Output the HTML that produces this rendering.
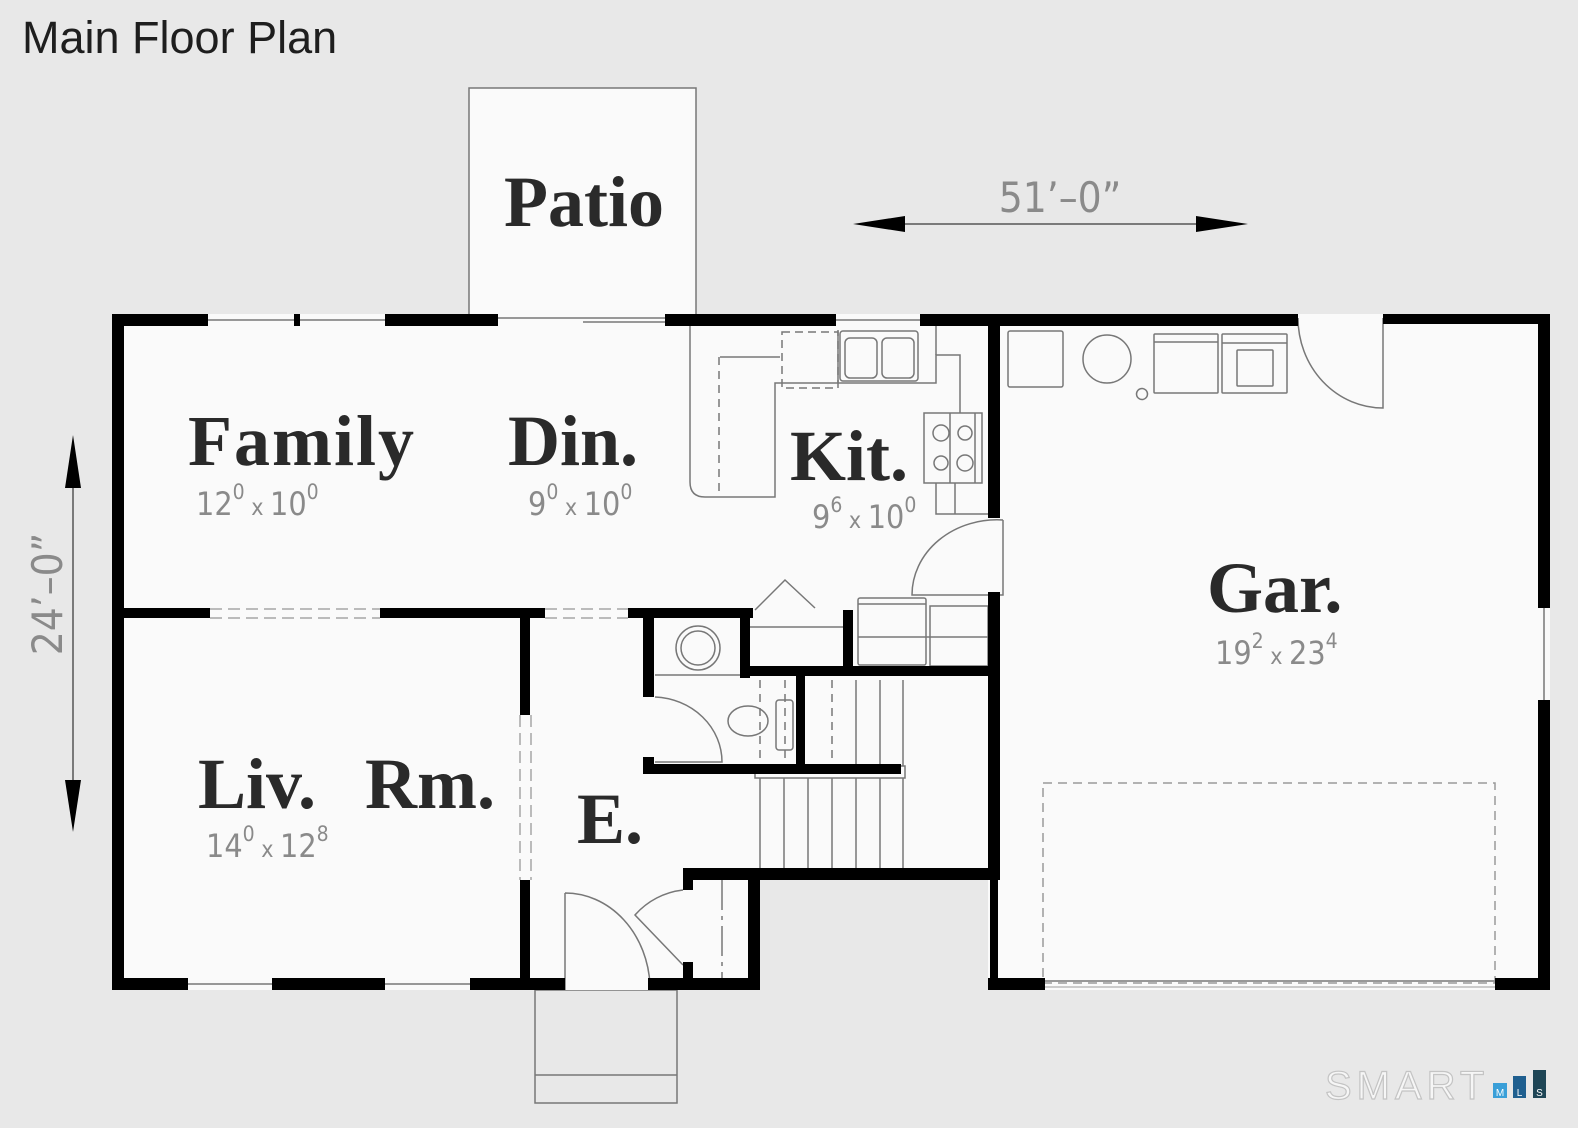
<!DOCTYPE html>
<html><head><meta charset="utf-8"><style>
html,body{margin:0;padding:0;background:#e8e8e8;}
svg{display:block}
.lbl{font-family:"Liberation Serif",serif;font-weight:bold;fill:#2a2a2a;}
.dim{font-family:"DejaVu Sans Condensed","Liberation Sans Narrow","Liberation Sans",sans-serif;fill:#8a8a8a;font-weight:300;}
</style></head><body>
<svg width="1578" height="1128" viewBox="0 0 1578 1128" xmlns="http://www.w3.org/2000/svg">
<rect width="1578" height="1128" fill="#e8e8e8"/>
<text x="22" y="53" font-family="Liberation Sans, sans-serif" font-size="45" fill="#1e1e1e">Main Floor Plan</text>

<rect x="469" y="88" width="227" height="232" fill="#fafafa" stroke="#777" stroke-width="1.5"/>
<rect x="535" y="990" width="142" height="113" fill="#e8e8e8" stroke="#777" stroke-width="1.5"/>
<line x1="535" y1="1075" x2="677" y2="1075" stroke="#777" stroke-width="1.5"/>

<polygon points="112,314 1550,314 1550,990 988,990 988,875 760,875 760,990 112,990" fill="#fafafa"/>

<g fill="none" stroke="#777" stroke-width="1.5">
<line x1="208" y1="320" x2="385" y2="320"/>
<line x1="498" y1="318" x2="665" y2="318"/>
<line x1="583" y1="322" x2="665" y2="322"/>
<line x1="836" y1="320" x2="920" y2="320"/>
<line x1="188" y1="984" x2="272" y2="984"/>
<line x1="385" y1="984" x2="470" y2="984"/>
<line x1="1045" y1="981" x2="1495" y2="981"/>
<line x1="1045" y1="987" x2="1495" y2="987" stroke="#bbb"/>
<line x1="1544" y1="608" x2="1544" y2="700"/>
<path d="M690,326 V482 Q690,497 705,497 H775 V383 H936 V355 H960 V413"/>
<line x1="720" y1="357" x2="780" y2="357"/>
<line x1="719" y1="357" x2="719" y2="497" stroke-dasharray="8,6"/>
<rect x="782" y="332" width="56" height="56" stroke-dasharray="8,5"/>
<line x1="838" y1="330" x2="838" y2="383"/>
<rect x="840" y="331" width="78" height="50" rx="3"/>
<rect x="845" y="338" width="32" height="40" rx="5"/>
<rect x="882" y="338" width="32" height="40" rx="5"/>
<path d="M936,326 V355"/>
<rect x="924" y="413" width="58" height="70"/>
<line x1="950" y1="413" x2="950" y2="483"/>
<line x1="975" y1="413" x2="975" y2="483"/>
<circle cx="941" cy="433" r="8"/><circle cx="965" cy="433" r="7"/>
<circle cx="941" cy="463" r="7"/><circle cx="965" cy="463" r="8"/>
<path d="M936,483 V514 H990"/>
<line x1="955" y1="483" x2="955" y2="514"/>
<path d="M1003,520 A85,75 0 0 0 912,595 H1003 V520"/>
<path d="M755,610 L785,580 L815,608"/>
<line x1="750" y1="627" x2="843" y2="627"/>
<rect x="858" y="598" width="68" height="67" rx="2"/>
<line x1="858" y1="604" x2="926" y2="604"/>
<rect x="930" y="606" width="58" height="60"/>
<line x1="858" y1="637" x2="988" y2="637"/>
<circle cx="698" cy="648" r="22"/><circle cx="698" cy="648" r="17"/>
<line x1="655" y1="675" x2="743" y2="675"/>
<ellipse cx="748" cy="721" rx="20" ry="15"/>
<rect x="776" y="700" width="17" height="50" rx="3"/>
<path d="M655,697 A70,65 0 0 1 722,762 H655"/>
<line x1="760" y1="680" x2="760" y2="766" stroke-dasharray="8,6"/>
<line x1="785" y1="680" x2="785" y2="766" stroke-dasharray="8,6"/>
<line x1="832" y1="680" x2="832" y2="766" stroke-dasharray="8,6"/>
<line x1="856" y1="680" x2="856" y2="766"/>
<line x1="880" y1="680" x2="880" y2="766"/>
<line x1="903" y1="680" x2="903" y2="766"/>
<rect x="755" y="766" width="150" height="12"/>
<line x1="760" y1="778" x2="760" y2="870"/>
<line x1="784" y1="778" x2="784" y2="870"/>
<line x1="808" y1="778" x2="808" y2="870"/>
<line x1="832" y1="778" x2="832" y2="870"/>
<line x1="856" y1="778" x2="856" y2="870"/>
<line x1="880" y1="778" x2="880" y2="870"/>
<line x1="903" y1="778" x2="903" y2="870"/>
<line x1="722" y1="880" x2="722" y2="978" stroke-dasharray="30,6,4,6"/>
<path d="M683,890 A75,75 0 0 0 635,915 L683,965"/>
<path d="M565,893 V990 M565,893 A85,97 0 0 1 650,985"/>
<rect x="1008" y="331" width="55" height="56" rx="2"/>
<circle cx="1107" cy="359" r="24"/>
<circle cx="1142" cy="394" r="5.5"/>
<rect x="1154" y="334" width="64" height="59" rx="1"/>
<line x1="1154" y1="342" x2="1218" y2="342"/>
<rect x="1222" y="334" width="65" height="59" rx="1"/>
<line x1="1222" y1="343" x2="1287" y2="343"/>
<rect x="1237" y="350" width="36" height="36" rx="1"/>
<path d="M1298,318 A85,90 0 0 0 1383,408 V318"/>
<rect x="1043" y="783" width="452" height="200" stroke="#999" stroke-dasharray="9,6"/>
<g stroke="#bbb" stroke-width="2" stroke-dasharray="12,6">
<line x1="210" y1="609" x2="380" y2="609"/><line x1="210" y1="618" x2="380" y2="618"/>
<line x1="545" y1="609" x2="628" y2="609"/><line x1="545" y1="618" x2="628" y2="618"/>
<line x1="520" y1="715" x2="520" y2="880"/><line x1="531" y1="715" x2="531" y2="880"/>
</g>
</g>

<g fill="#000">
<rect x="112" y="314" width="96" height="12"/>
<rect x="294" y="314" width="6" height="12"/>
<rect x="385" y="314" width="113" height="12"/>
<rect x="665" y="314" width="171" height="12"/>
<rect x="920" y="314" width="378" height="12"/>
<rect x="1383" y="314" width="167" height="10"/>
<rect x="112" y="314" width="12" height="676"/>
<rect x="1538" y="314" width="12" height="294"/>
<rect x="1538" y="700" width="12" height="290"/>
<rect x="112" y="978" width="76" height="12"/>
<rect x="272" y="978" width="113" height="12"/>
<rect x="470" y="978" width="95" height="12"/>
<rect x="648" y="978" width="112" height="12"/>
<rect x="748" y="870" width="12" height="120"/>
<rect x="683" y="868" width="317" height="12"/>
<rect x="683" y="868" width="10" height="22"/>
<rect x="683" y="962" width="10" height="18"/>
<rect x="988" y="314" width="12" height="204"/>
<rect x="988" y="592" width="12" height="288"/>
<rect x="990" y="878" width="8" height="112"/>
<rect x="988" y="978" width="57" height="12"/>
<rect x="1495" y="978" width="55" height="12"/>
<rect x="112" y="608" width="98" height="10"/>
<rect x="380" y="608" width="165" height="10"/>
<rect x="628" y="608" width="125" height="10"/>
<rect x="520" y="613" width="10" height="102"/>
<rect x="520" y="880" width="10" height="110"/>
<rect x="643" y="613" width="11" height="84"/>
<rect x="643" y="757" width="11" height="16"/>
<rect x="643" y="764" width="258" height="10"/>
<rect x="740" y="608" width="10" height="70"/>
<rect x="740" y="666" width="250" height="10"/>
<rect x="796" y="672" width="9" height="98"/>
<rect x="843" y="610" width="10" height="62"/>
</g>

<g stroke="#555" stroke-width="1.5">
<line x1="870" y1="224" x2="1230" y2="224"/>
<line x1="73" y1="455" x2="73" y2="810"/>
</g>
<polygon points="853,224 905,216 905,232" fill="#000"/>
<polygon points="1248,224 1196,216 1196,232" fill="#000"/>
<polygon points="73,435 65,488 81,488" fill="#000"/>
<polygon points="73,832 65,780 81,780" fill="#000"/>
<text x="1060" y="212" text-anchor="middle" class="dim" font-size="42" fill="#888">51’–0”</text>
<text transform="translate(62,594) rotate(-90)" text-anchor="middle" class="dim" font-size="42">24’–0”</text>

<text x="504" y="226" class="lbl" font-size="72">Patio</text>
<text x="188" y="465" class="lbl" font-size="72" letter-spacing="2">Family</text>
<text x="508" y="465" class="lbl" font-size="72">Din.</text>
<text x="790" y="480" class="lbl" font-size="72">Kit.</text>
<text x="1207" y="612" class="lbl" font-size="72">Gar.</text>
<text x="198" y="808" class="lbl" font-size="72">Liv.</text>
<text x="365" y="808" class="lbl" font-size="72">Rm.</text>
<text x="577" y="843" class="lbl" font-size="72">E.</text>

<g class="dim" font-size="32">
<text x="196" y="515">12<tspan dy="-16" font-size="21">0</tspan><tspan dy="16" font-size="23"> x </tspan>10<tspan dy="-16" font-size="21">0</tspan></text>
<text x="528" y="515">9<tspan dy="-16" font-size="21">0</tspan><tspan dy="16" font-size="23"> x </tspan>10<tspan dy="-16" font-size="21">0</tspan></text>
<text x="812" y="528">9<tspan dy="-16" font-size="21">6</tspan><tspan dy="16" font-size="23"> x </tspan>10<tspan dy="-16" font-size="21">0</tspan></text>
<text x="1215" y="664">19<tspan dy="-16" font-size="21">2</tspan><tspan dy="16" font-size="23"> x </tspan>23<tspan dy="-16" font-size="21">4</tspan></text>
<text x="206" y="857">14<tspan dy="-16" font-size="21">0</tspan><tspan dy="16" font-size="23"> x </tspan>12<tspan dy="-16" font-size="21">8</tspan></text>
</g>

<text x="1325" y="1099" font-family="Liberation Sans, sans-serif" font-size="40" fill="#f6f6f6" stroke="#c4c4c4" stroke-width="1.2" letter-spacing="5">SMART</text>
<rect x="1493" y="1083" width="14" height="15" fill="#3a9fd8"/>
<text x="1500" y="1096" text-anchor="middle" font-family="Liberation Sans, sans-serif" font-size="10" fill="#fff">M</text>
<rect x="1513" y="1076" width="13" height="22" fill="#1f5f8f"/>
<text x="1519.5" y="1096" text-anchor="middle" font-family="Liberation Sans, sans-serif" font-size="10" fill="#fff">L</text>
<rect x="1533" y="1070" width="13" height="28" fill="#1f4656"/>
<text x="1539.5" y="1096" text-anchor="middle" font-family="Liberation Sans, sans-serif" font-size="10" fill="#fff">S</text>
</svg>
</body></html>
